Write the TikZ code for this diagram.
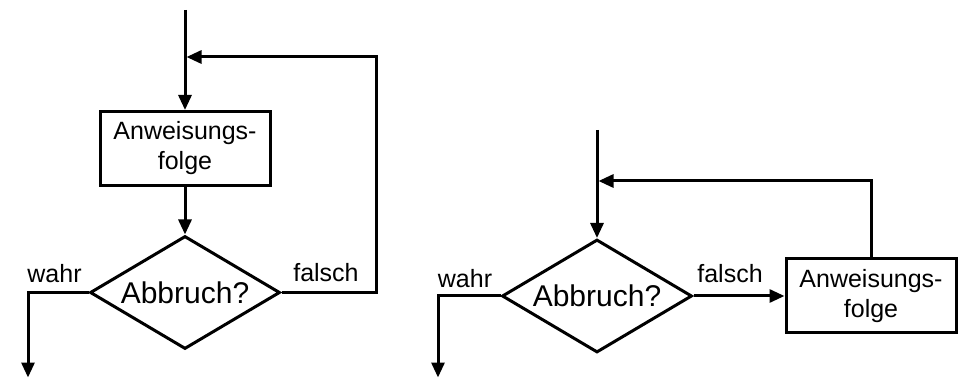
\documentclass[tikz,border=0pt]{standalone}
\usepackage{fontspec}
\setmainfont{Liberation Sans}
\usetikzlibrary{arrows.meta,shapes.geometric}
\begin{document}
\begin{tikzpicture}[x=1pt,y=-1pt,
  ln/.style={line width=3pt},
  arr/.style={ln,-{Triangle[length=15pt,width=13pt]}},
  box/.style={draw,ln,minimum width=170pt,minimum height=74pt,align=center,
    inner sep=0pt,font=\fontsize{25}{30}\selectfont},
  dec/.style={diamond,draw,ln,shape aspect=1.68,minimum width=190pt,minimum height=113pt,
    inner sep=0pt,font=\fontsize{30}{34}\selectfont},
  lab/.style={anchor=base,inner sep=0pt,font=\fontsize{25}{30}\selectfont}]
\useasboundingbox (0,0) rectangle (964,379);
% left diagram
\coordinate (t1) at (185,10);
\node[box] (b1) at (185,148.5) {Anweisungs-\\folge};
\node[dec] (d1) at (185,292.5) {Abbruch?};
\coordinate (w1) at (28,377.5);
\coordinate (c1) at (376,57);
\coordinate (j1) at (186.5,57);
\draw[arr] (t1) -- (b1.north);
\draw[arr] (b1.south) -- (d1.north);
\draw[arr] (d1.west) -| (w1);
\draw[arr] (d1.east) -| (c1) -- (j1);
\node[lab] (l1w) at (54.5,283) {wahr};
\node[lab] (l1f) at (326,282) {falsch};
% right diagram
\coordinate (t2) at (597,130);
\node[dec] (d2) at (597,296) {Abbruch?};
\node[box] (b2) at (871,296) {Anweisungs-\\folge};
\coordinate (w2) at (438,377.5);
\coordinate (j2) at (598.5,181);
\draw[arr] (t2) -- (d2.north);
\draw[arr] (d2.east) -- (b2.west);
\draw[arr] (d2.west) -| (w2);
\draw[arr] (b2.north) |- (j2);
\node[lab] (l2w) at (465,288) {wahr};
\node[lab] (l2f) at (730,283) {falsch};
\end{tikzpicture}
\end{document}
